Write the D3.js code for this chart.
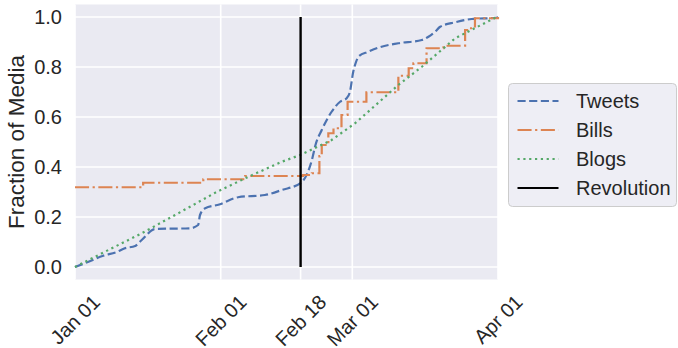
<!DOCTYPE html>
<html>
<head>
  <script src="https://cdn.jsdelivr.net/npm/d3@7"></script>
  <style>
    body { margin: 0; background: #fff; }
    text { font-family: "Liberation Sans", Arial, sans-serif; fill: #262626; }
  </style>
</head>
<body>
<script>
  // day offsets from Jan 01 2011, and cumulative fraction
  const tweetDays = [0, 2.1, 6, 8.9, 10.6, 12.8, 14.2, 17, 24.5, 26.2, 26.6, 27.7, 30.7, 34.7, 40.4, 44, 48.1, 50.4, 51.2, 52.5, 54.6, 56.4, 57.8, 58.5, 59.2, 59.7, 60.4, 62.4, 64.5, 68.8, 73.8, 75.2, 76.6, 77.7, 80.9, 84.4, 89.7, 90];
  const tweetVals = [0, 0.015, 0.045, 0.06, 0.075, 0.084, 0.108, 0.152, 0.155, 0.168, 0.208, 0.235, 0.25, 0.279, 0.288, 0.308, 0.337, 0.428, 0.49, 0.548, 0.621, 0.661, 0.675, 0.701, 0.781, 0.815, 0.843, 0.861, 0.877, 0.895, 0.908, 0.921, 0.941, 0.961, 0.979, 0.992, 0.997, 1.0];

  const billDays = [0, 14.5, 27.3, 36.2, 48.5, 50.4, 52, 52.5, 53.9, 55, 56.7, 58, 62, 68.8, 71, 72, 74.8, 78.4, 83, 84, 85.1, 90];
  const billVals = [0.319, 0.337, 0.351, 0.364, 0.368, 0.375, 0.444, 0.488, 0.535, 0.555, 0.608, 0.661, 0.699, 0.765, 0.795, 0.815, 0.875, 0.885, 0.948, 0.955, 0.995, 1.0];

  const blogDays = [0, 7.1, 14.2, 21.3, 30.2, 36.9, 44, 47.9, 54.6, 59.6, 68.8, 73.8, 80.9, 89.4, 90];
  const blogVals = [0, 0.068, 0.135, 0.208, 0.301, 0.361, 0.421, 0.448, 0.508, 0.575, 0.728, 0.801, 0.915, 0.997, 1.0];

  const revolutionDay = 48;
  const xTickDays = [0, 31, 48, 59, 90];
  const xTickLabels = ["Jan 01", "Feb 01", "Feb 18", "Mar 01", "Apr 01"];
  const yTicks = [0, 0.2, 0.4, 0.6, 0.8, 1.0];
  const seriesNames = ["Tweets", "Bills", "Blogs", "Revolution"];

  const w = 678, h = 348;
  const start = new Date(Date.UTC(2011, 0, 1));
  const toDate = d => new Date(start.getTime() + d * 86400000);

  const xScale = d3.scaleUtc()
    .domain([toDate(0), toDate(90)])
    .range([75, 498]);
  const yScale = d3.scaleLinear()
    .domain([-0.05, 1.05])
    .range([279.5, 4.5]);

  const svg = d3.select("body").append("svg")
    .attr("width", w)
    .attr("height", h);

  // background
  svg.append("rect")
    .attr("x", xScale.range()[0]).attr("y", yScale.range()[1])
    .attr("width", xScale.range()[1] - xScale.range()[0])
    .attr("height", yScale.range()[0] - yScale.range()[1])
    .attr("fill", "#EAEAF2");

  // grid
  svg.selectAll(".ygrid").data(yTicks).enter().append("line")
    .attr("x1", xScale.range()[0]).attr("x2", xScale.range()[1])
    .attr("y1", d => yScale(d)).attr("y2", d => yScale(d))
    .attr("stroke", "#fff").attr("stroke-width", 1.6);
  svg.selectAll(".xgrid").data(xTickDays).enter().append("line")
    .attr("x1", d => xScale(toDate(d))).attr("x2", d => xScale(toDate(d)))
    .attr("y1", yScale.range()[0]).attr("y2", yScale.range()[1])
    .attr("stroke", "#fff").attr("stroke-width", 1.6);

  // y tick labels
  svg.selectAll(".ytick").data(yTicks).enter().append("text")
    .attr("x", 62).attr("y", d => yScale(d))
    .attr("dy", "0.36em")
    .attr("text-anchor", "end")
    .attr("font-size", 20)
    .text(d => d.toFixed(1));

  // x tick labels, rotated 45, bbox centred under tick
  const fs = 20;
  xTickDays.forEach((d, i) => {
    const t = svg.append("text")
      .attr("font-size", fs)
      .attr("text-anchor", "middle")
      .text(xTickLabels[i]);
    const tw = t.node().getComputedTextLength();
    const half = (tw + fs * 0.75) * Math.SQRT1_2 / 2;
    const cx = xScale(toDate(d)), cy = 293 + half;
    t.attr("x", cx).attr("y", cy).attr("dy", "0.36em")
      .attr("transform", `rotate(-45,${cx},${cy})`);
  });

  // y label
  svg.append("text")
    .attr("transform", `translate(24,${(yScale.range()[0] + yScale.range()[1]) / 2}) rotate(-90)`)
    .attr("text-anchor", "middle")
    .attr("font-size", 22.5)
    .text("Fraction of Media");

  const zip = (xs, ys) => xs.map((x, i) => [x, ys[i]]);
  const line = d3.line()
    .x(d => xScale(toDate(d[0])))
    .y(d => yScale(d[1]));

  const lw = 2.2;
  const styles = [
    { color: "#4C72B0", dash: `${3.7 * lw},${1.6 * lw}` },
    { color: "#DD8452", dash: `${6.4 * lw},${1.6 * lw},${1 * lw},${1.6 * lw}` },
    { color: "#55A868", dash: `${1 * lw},${1.65 * lw}` },
    { color: "#000000", dash: null }
  ];

  svg.append("path").datum(zip(tweetDays, tweetVals))
    .attr("d", line.curve(d3.curveMonotoneX))
    .attr("fill", "none").attr("stroke", styles[0].color)
    .attr("stroke-width", lw).attr("stroke-dasharray", styles[0].dash);

  svg.append("path").datum(zip(billDays, billVals))
    .attr("d", line.curve(d3.curveStepAfter))
    .attr("fill", "none").attr("stroke", styles[1].color)
    .attr("stroke-width", lw).attr("stroke-dasharray", styles[1].dash);

  svg.append("path").datum(zip(blogDays, blogVals))
    .attr("d", line.curve(d3.curveLinear))
    .attr("fill", "none").attr("stroke", styles[2].color)
    .attr("stroke-width", lw).attr("stroke-dasharray", styles[2].dash);

  svg.append("line")
    .attr("x1", xScale(toDate(revolutionDay))).attr("x2", xScale(toDate(revolutionDay)))
    .attr("y1", yScale(0)).attr("y2", yScale(1))
    .attr("stroke", "#000").attr("stroke-width", 2.4);

  // legend
  const lg = svg.append("g").attr("transform", "translate(508.5,83.5)");
  lg.append("rect")
    .attr("width", 168).attr("height", 123).attr("rx", 4)
    .attr("fill", "#EEEEF5").attr("stroke", "#CCCCCC").attr("stroke-width", 1);
  seriesNames.forEach((name, i) => {
    const yy = 17.5 + i * 29;
    lg.append("line")
      .attr("x1", 9).attr("x2", 50).attr("y1", yy).attr("y2", yy)
      .attr("stroke", styles[i].color).attr("stroke-width", lw)
      .attr("stroke-dasharray", styles[i].dash);
    lg.append("text")
      .attr("x", 67.5).attr("y", yy).attr("dy", "0.36em")
      .attr("font-size", 20)
      .text(name);
  });
</script>
</body>
</html>
